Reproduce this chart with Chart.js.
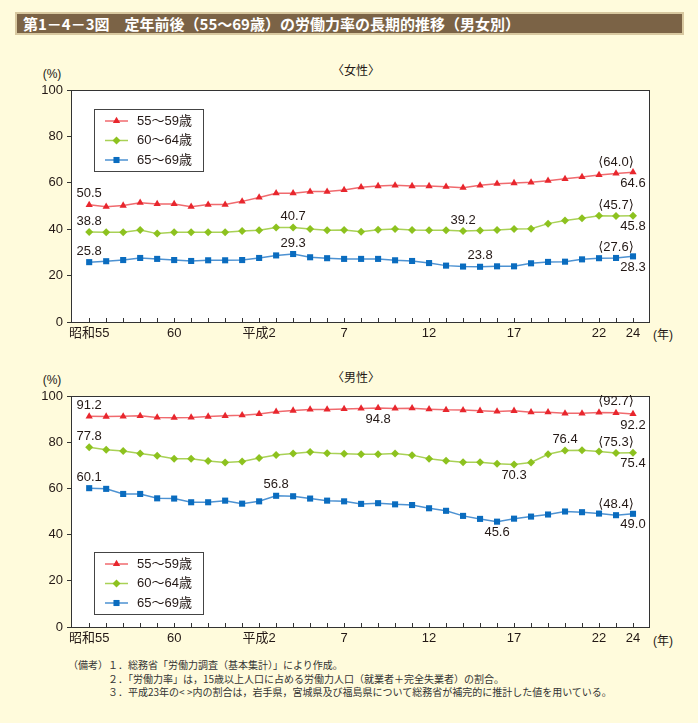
<!DOCTYPE html>
<html>
<head>
<meta charset="utf-8">
<script src="https://cdn.jsdelivr.net/npm/chart.js@4/dist/chart.umd.min.js"></script>
<style>
body { margin: 0; background: #fffbdc; width: 698px; height: 723px; position: relative; overflow: hidden;
  font-family: "Liberation Sans", "Noto Sans CJK JP", sans-serif; color: #231815; }
#title { position: absolute; left: 15px; top: 12px; width: 669px; height: 23px; box-sizing: border-box;
  background: #7b6346; border: 2px solid #d8c8a0; color: #fff; font: bold 15px "Noto Sans CJK JP", sans-serif;
  line-height: 19px; padding-left: 6px; white-space: nowrap; }
canvas { position: absolute; left: 0; }
.lbl { position: absolute; transform: translate(-50%, -50%); font-size: 12px; white-space: nowrap; font-feature-settings: "halt"; }
#notes { position: absolute; left: 68px; top: 658px; font: 10px "Noto Sans CJK JP", sans-serif; line-height: 13.5px; color: #333; }
#notes div { white-space: nowrap; }
</style>
</head>
<body>
<div id="title">第1－4－3図　定年前後（55～69歳）の労働力率の長期的推移（男女別）</div>

<div class="lbl" style="left:52px;top:74px">(%)</div>
<div class="lbl" style="left:356px;top:69px">〈女性〉</div>
<div class="lbl" style="left:663px;top:333px">(年)</div>
<canvas id="female" width="698" height="290" style="top:60px"></canvas>

<div class="lbl" style="left:52px;top:380px">(%)</div>
<div class="lbl" style="left:356px;top:376px">〈男性〉</div>
<div class="lbl" style="left:663px;top:639px">(年)</div>
<canvas id="male" width="698" height="290" style="top:365px"></canvas>

<div id="notes">
  <div>（備考）１．総務省「労働力調査（基本集計）」により作成。</div>
  <div>　　　　２．「労働力率」は，15歳以上人口に占める労働力人口（就業者＋完全失業者）の割合。</div>
  <div>　　　　３．平成23年の&lt; &gt;内の割合は，岩手県，宮城県及び福島県について総務省が補完的に推計した値を用いている。</div>
</div>

<script>
// years on the x axis, 昭和55 (1980) to 平成24 (2012)
const years = ['昭和55', '昭和56', '昭和57', '昭和58', '昭和59', '昭和60', '昭和61', '昭和62', '昭和63',
  '平成元', '平成2', '平成3', '平成4', '平成5', '平成6', '平成7', '平成8', '平成9', '平成10', '平成11', '平成12',
  '平成13', '平成14', '平成15', '平成16', '平成17', '平成18', '平成19', '平成20', '平成21', '平成22', '平成23', '平成24'];
const tickYears = ['昭和55', '昭和60', '平成2', '平成7', '平成12', '平成17', '平成22', '平成24'];
const tickLabels = ['昭和55', '60', '平成2', '7', '12', '17', '22', '24'];
const yTicks = [0, 20, 40, 60, 80, 100];

const seriesNames = ['55～59歳', '60～64歳', '65～69歳'];

// female labour force participation (%)
const female55 = [50.5, 49.7, 50.2, 51.4, 50.9, 50.9, 49.7, 50.6, 50.6, 52.0, 53.7, 55.5, 55.5, 56.2, 56.2, 56.9,
  58.1, 58.6, 58.9, 58.6, 58.6, 58.3, 57.9, 58.9, 59.6, 59.9, 60.2, 60.9, 61.7, 62.5, 63.4, 64.0, 64.6];
const female60 = [38.8, 38.7, 38.7, 39.7, 38.1, 38.7, 38.7, 38.7, 38.7, 39.2, 39.5, 40.7, 40.7, 40.1, 39.5, 39.7,
  38.9, 39.8, 40.1, 39.7, 39.5, 39.5, 39.2, 39.4, 39.7, 40.1, 40.2, 42.4, 43.7, 44.7, 45.8, 45.7, 45.8];
const female65 = [25.8, 26.2, 26.7, 27.6, 27.2, 26.7, 26.3, 26.6, 26.6, 26.7, 27.6, 28.7, 29.3, 27.9, 27.5, 27.2,
  27.2, 27.2, 26.6, 26.3, 25.4, 24.3, 23.9, 23.8, 24.0, 24.0, 25.3, 25.9, 26.0, 27.0, 27.5, 27.6, 28.3];

// male labour force participation (%)
const male55 = [91.2, 91.1, 91.2, 91.4, 90.7, 90.6, 90.7, 91.1, 91.4, 91.7, 92.2, 93.2, 93.7, 94.2, 94.2, 94.4,
  94.6, 94.8, 94.6, 94.7, 94.3, 94.0, 93.9, 93.6, 93.3, 93.6, 93.0, 93.0, 92.5, 92.5, 92.9, 92.7, 92.2];
const male60 = [77.8, 76.7, 76.2, 75.1, 74.1, 72.8, 72.8, 71.9, 71.2, 71.6, 73.2, 74.5, 75.1, 75.8, 75.2, 75.0,
  74.8, 74.8, 75.1, 74.4, 72.8, 72.0, 71.3, 71.3, 70.7, 70.3, 71.2, 74.8, 76.4, 76.5, 76.0, 75.3, 75.4];
const male65 = [60.1, 59.8, 57.6, 57.6, 55.7, 55.6, 54.0, 54.0, 54.7, 53.4, 54.4, 56.8, 56.6, 55.6, 54.7, 54.4,
  53.3, 53.6, 53.1, 52.8, 51.4, 50.3, 48.1, 46.8, 45.6, 46.9, 47.8, 48.7, 50.0, 49.7, 49.1, 48.4, 49.0];

// value labels: [series, year, text, above/below]
const femaleLabels = [
  [0, '昭和55', '50.5', 'up'], [0, '平成23', '⟨64.0⟩', 'up'], [0, '平成24', '64.6', 'down'],
  [1, '昭和55', '38.8', 'up'], [1, '平成4', '40.7', 'up'], [1, '平成14', '39.2', 'up'],
  [1, '平成23', '⟨45.7⟩', 'up'], [1, '平成24', '45.8', 'down'],
  [2, '昭和55', '25.8', 'up'], [2, '平成4', '29.3', 'up'], [2, '平成15', '23.8', 'up'],
  [2, '平成23', '⟨27.6⟩', 'up'], [2, '平成24', '28.3', 'down']
];
const maleLabels = [
  [0, '昭和55', '91.2', 'up'], [0, '平成9', '94.8', 'down'], [0, '平成23', '⟨92.7⟩', 'up'], [0, '平成24', '92.2', 'down'],
  [1, '昭和55', '77.8', 'up'], [1, '平成17', '70.3', 'down'], [1, '平成20', '76.4', 'up'],
  [1, '平成23', '⟨75.3⟩', 'up'], [1, '平成24', '75.4', 'down'],
  [2, '昭和55', '60.1', 'up'], [2, '平成3', '56.8', 'up'], [2, '平成16', '45.6', 'down'],
  [2, '平成23', '⟨48.4⟩', 'up'], [2, '平成24', '49.0', 'down']
];

const lineColors = ['#f06a6e', '#a9d156', '#4d92d2'];
const markColors = ['#e8262d', '#8dc21f', '#0a6cbf'];
const markStyles = ['triangle', 'rectRot', 'rect'];
const markSizes = [4.2, 4, 4.3];
const textFont = '13px "Liberation Sans", "DejaVu Sans", "Noto Sans CJK JP", sans-serif';

function drawMark(ctx, i, x, y) {
  ctx.save();
  ctx.fillStyle = markColors[i];
  ctx.strokeStyle = markColors[i];
  if (Chart.helpers && Chart.helpers.drawPoint) {
    Chart.helpers.drawPoint(ctx, { pointStyle: markStyles[i], radius: markSizes[i], rotation: 0, borderWidth: 0 }, x, y);
  }
  ctx.restore();
}

// white plot, dark frame and the little inward year ticks
const framePlugin = {
  id: 'framePlugin',
  beforeDraw(chart) {
    const a = chart.chartArea, ctx = chart.ctx;
    ctx.save();
    ctx.fillStyle = '#fff';
    ctx.fillRect(a.left, a.top, a.right - a.left, a.bottom - a.top);
    ctx.restore();
  },
  beforeDatasetsDraw(chart) {
    const a = chart.chartArea, ctx = chart.ctx, xs = chart.scales.x;
    ctx.save();
    ctx.strokeStyle = '#333';
    ctx.lineWidth = 1;
    ctx.strokeRect(a.left + 0.5, a.top + 0.5, a.right - a.left - 1, a.bottom - a.top);
    ctx.beginPath();
    years.forEach((y, i) => {
      const px = Math.round(xs.getPixelForValue(i)) + 0.5;
      ctx.moveTo(px, a.bottom);
      ctx.lineTo(px, a.bottom - 4);
    });
    ctx.stroke();
    ctx.restore();
  },
  afterDatasetsDraw(chart, args, opts) {
    const a = chart.chartArea, ctx = chart.ctx;
    ctx.save();
    ctx.font = textFont;
    ctx.fillStyle = '#231815';
    ctx.textAlign = 'center';
    ctx.textBaseline = 'middle';
    opts.labels.forEach(([s, yr, txt, pos]) => {
      const pt = chart.getDatasetMeta(s).data[years.indexOf(yr)];
      ctx.fillText(txt, pt.x, pos === 'up' ? pt.y - 11 : pt.y + 11);
    });
    // legend box
    const lx = a.left + 23, ly = a.top + opts.legendY;
    ctx.fillStyle = '#fff';
    ctx.fillRect(lx, ly, 109, 62);
    ctx.strokeStyle = '#444';
    ctx.lineWidth = 1;
    ctx.strokeRect(lx + 0.5, ly + 0.5, 109, 62);
    seriesNames.forEach((name, i) => {
      const ry = ly + 12 + i * 19.5;
      ctx.strokeStyle = lineColors[i];
      ctx.lineWidth = 1.5;
      ctx.beginPath();
      ctx.moveTo(lx + 11, ry);
      ctx.lineTo(lx + 34, ry);
      ctx.stroke();
      drawMark(ctx, i, lx + 22.5, ry);
      ctx.fillStyle = '#231815';
      ctx.textAlign = 'left';
      ctx.fillText(name, lx + 43, ry);
    });
    ctx.restore();
  }
};

function makeChart(id, series, labels, padTop, legendY) {
  return new Chart(document.getElementById(id), {
    type: 'line',
    data: {
      datasets: series.map((vals, i) => ({
        label: seriesNames[i],
        data: vals.map((v, k) => ({ x: k, y: v })),
        borderColor: lineColors[i],
        borderWidth: 1.5,
        pointStyle: markStyles[i],
        pointRadius: markSizes[i],
        pointBackgroundColor: markColors[i],
        pointBorderColor: markColors[i],
        pointBorderWidth: 0,
        tension: 0
      }))
    },
    options: {
      responsive: false,
      animation: false,
      layout: { padding: { top: padTop, right: 48, bottom: 2, left: 0 } },
      plugins: {
        legend: { display: false },
        tooltip: { enabled: false },
        framePlugin: { labels: labels, legendY: legendY }
      },
      scales: {
        x: {
          type: 'linear',
          min: -1.07,
          max: 33,
          afterFit(scale) { scale.height = 26; },
          afterBuildTicks(scale) { scale.ticks = tickYears.map(y => ({ value: years.indexOf(y) })); },
          grid: { display: false, drawTicks: false, tickLength: 0 },
          border: { display: false },
          ticks: {
            autoSkip: false,
            maxRotation: 0,
            padding: 4,
            color: '#231815',
            font: { family: '"Liberation Sans", "Noto Sans CJK JP", sans-serif', size: 13 },
            callback(v) {
              const k = tickYears.indexOf(years[v]);
              return k >= 0 ? tickLabels[k] : '';
            }
          }
        },
        y: {
          min: 0,
          max: 100,
          afterFit(scale) { scale.width = 71; },
          afterBuildTicks(scale) { scale.ticks = yTicks.map(v => ({ value: v })); },
          grid: { drawOnChartArea: false, drawTicks: true, tickLength: 4, color: '#333' },
          border: { display: false },
          ticks: {
            padding: 4,
            color: '#231815',
            font: { family: '"Liberation Sans", sans-serif', size: 13 }
          }
        }
      }
    },
    plugins: [framePlugin]
  });
}

makeChart('female', [female55, female60, female65], femaleLabels, 30, 19);
makeChart('male', [male55, male60, male65], maleLabels, 31, 156);
</script>
</body>
</html>
